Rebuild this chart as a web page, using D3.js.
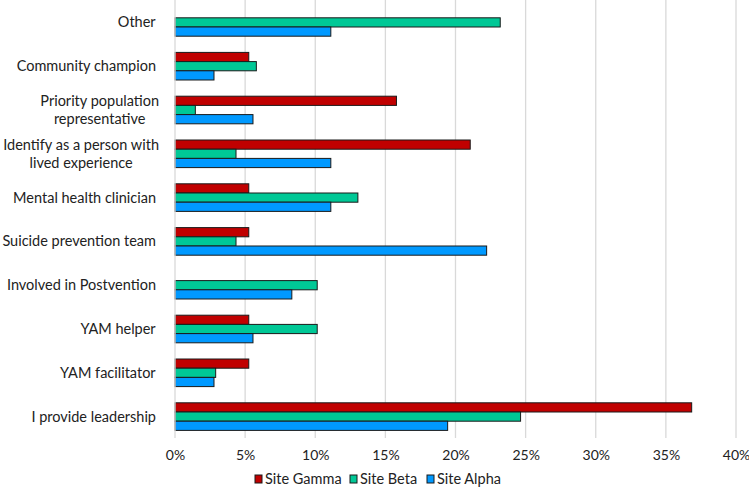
<!DOCTYPE html>
<html><head><meta charset="utf-8">
<script src="https://cdn.jsdelivr.net/npm/d3@7"></script>
<style>body{margin:0;background:#fff}svg{display:block}text{font-family:Lato,"Open Sans",sans-serif;fill:#222}</style>
</head><body><svg id="c" width="749" height="489"></svg>
<script>
const categories = [
  ["Other"],
  ["Community champion"],
  ["Priority population", "representative"],
  ["Identify as a person with", "lived experience"],
  ["Mental health clinician"],
  ["Suicide prevention team"],
  ["Involved in Postvention"],
  ["YAM helper"],
  ["YAM facilitator"],
  ["I provide leadership"]
];
const seriesNames = ["Site Gamma", "Site Beta", "Site Alpha"];
const siteGamma = [0, 0.0526, 0.1579, 0.2105, 0.0526, 0.0526, 0, 0.0526, 0.0526, 0.3684];
const siteBeta  = [0.2319, 0.0580, 0.0145, 0.0435, 0.1304, 0.0435, 0.1014, 0.1014, 0.0290, 0.2464];
const siteAlpha = [0.1111, 0.0278, 0.0556, 0.1111, 0.1111, 0.2222, 0.0833, 0.0556, 0.0278, 0.1944];
const colors = ["#C00000", "#00C896", "#0099FF"];
const xTicks = [0, 0.05, 0.10, 0.15, 0.20, 0.25, 0.30, 0.35, 0.40];

const FS = 14.5;
const values = [siteGamma, siteBeta, siteAlpha];
const svg = d3.select("#c");
const x = d3.scaleLinear().domain([0, 0.40]).range([175, 736]);
const y = d3.scaleBand().domain(d3.range(categories.length)).range([0.5, 438.5]).paddingInner(0.37).paddingOuter(0.185);
const ys = d3.scaleBand().domain(d3.range(3)).range([0, y.bandwidth()]);

// gridlines
svg.append("g").selectAll("line").data(xTicks.slice(1)).join("line")
  .attr("x1", d => x(d)).attr("x2", d => x(d)).attr("y1", 0).attr("y2", 438)
  .attr("stroke", "#d9d9d9").attr("stroke-width", 1.3);

// bars
const g = svg.append("g");
values.forEach((vals, si) => {
  g.selectAll(null).data(vals.map((v, i) => ({v, i}))).join("rect")
    .filter(d => d.v > 0)
    .attr("x", x(0)).attr("y", d => y(d.i) + ys(si))
    .attr("width", d => x(d.v) - x(0)).attr("height", ys.bandwidth())
    .attr("fill", colors[si]).attr("stroke", "#1a1a1a").attr("stroke-width", 1);
});

// axis line
svg.append("line").attr("x1", x(0)).attr("x2", x(0)).attr("y1", 0).attr("y2", 438)
  .attr("stroke", "#d9d9d9").attr("stroke-width", 1.3);

// x tick labels
const xAxis = d3.axisBottom(x).tickValues(xTicks).tickFormat(d3.format(".0%")).tickSize(0).tickPadding(0);
const xa = svg.append("g").attr("transform", "translate(0,450)").call(xAxis);
xa.select(".domain").remove();
xa.selectAll("text").attr("font-size", 14).attr("font-family", "Lato").attr("fill", "#222");

// category labels
const lab = svg.append("g");
categories.forEach((lines, i) => {
  const cy = y(i) + y.bandwidth() / 2;
  const lh = 18.5;
  const t = lab.append("text").attr("font-size", FS).attr("text-anchor", "middle");
  lines.forEach((ln, k) => {
    t.append("tspan").text(ln).attr("x", 0).attr("y", cy + (k - (lines.length - 1) / 2) * lh).attr("dy", "0.35em");
  });
  const w = t.node().getBBox().width;
  const right = lines.length > 1 ? 159 : 156;
  t.selectAll("tspan").attr("x", right - w / 2);
});

// legend
const leg = svg.append("g");
const legX = [255, 350, 427];
seriesNames.forEach((n, i) => {
  leg.append("rect").attr("x", legX[i]).attr("y", 475).attr("width", 7).attr("height", 8)
    .attr("fill", colors[i]).attr("stroke", "#1a1a1a").attr("stroke-width", 1);
  leg.append("text").attr("x", legX[i] + 10).attr("y", 479).attr("dy", "0.35em")
    .attr("font-size", FS).text(n);
});
</script></body></html>
